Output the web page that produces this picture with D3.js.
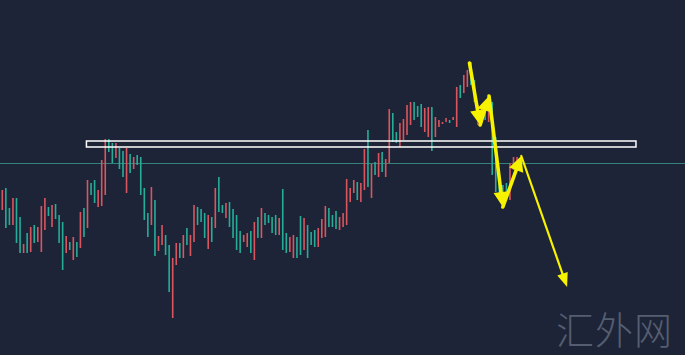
<!DOCTYPE html>
<html><head><meta charset="utf-8">
<script src="https://cdn.jsdelivr.net/npm/d3@7"></script>
<style>html,body{margin:0;padding:0;background:#1d2437;overflow:hidden}</style>
</head><body><svg id="c" width="685" height="355"></svg>
<script>
// Candle highs / lows in chart points (higher = higher price)
const highs = [165,167,147,157,157,138,111,122,128,130,
128,149,157,148,150,151,140,133,119,113,
118,113,143,147,175,172,175,165,195,216,
216,212,212,207,204,207,201,198,200,198,
167,142,168,155,119,130,120,110,97,112,
112,120,127,120,150,148,146,142,140,138,
167,178,150,152,153,146,140,124,120,122,
124,133,138,147,142,140,138,140,137,166,
122,118,120,118,139,137,130,123,125,127,
136,149,147,140,144,138,142,176,167,175,
173,172,206,225,191,193,202,203,196,246,
242,223,232,236,250,253,253,249,251,247,
248,248,238,235,233,237,235,238,268,270,
280,285,293,275,250,247,250,257,253,218,
180,170,172,192,198,198,198];
const lows = [145,127,130,130,112,102,102,102,103,112,
113,103,125,139,128,136,112,85,102,105,
95,98,107,118,127,160,152,148,149,160,
203,192,197,186,178,162,182,186,190,160,
135,118,130,99,104,110,100,63,37,90,
97,97,110,99,113,130,133,117,106,113,
127,143,142,137,128,117,105,102,113,108,
102,95,117,117,130,132,122,120,120,105,
102,103,97,97,100,105,97,110,108,108,
117,118,128,128,126,125,128,130,153,162,
155,153,165,168,157,180,178,183,178,192,
213,212,208,215,220,230,235,238,228,223,
218,204,218,228,231,233,232,235,228,257,
262,268,270,253,230,235,235,233,180,163,
155,150,158,155,185,188,190];
// G = up candle, R = down candle
const direction = ("RGGRGGRGRG"+"RRRGRGGGRG"+"RGRGRGGRRR"+"GGRGGRGRGG"+"GGRGRRGGRR"+
  "GRGRRGGGRG"+"RGGRGGGGRR"+"GRGRGGGGRG"+"GRRGGRGGGR"+"RRGGGRRRRR"+
  "GRRGRGRGRR"+"GGRRRRGGGR"+"RGRRRRGRRG"+"RRGGRRGRGG"+"GGGRRRG").split("");

// Annotations (candle index, chart points)
const refLevel = 192;
const zone = {from: 23.7, to: 178.5, top: 214, bottom: 208};
const arrowPath = [[131.6,292],[134.6,230],[137.1,259],[141.0,148],[146.2,199],[159.1,68]];
const watermark = "汇外网";

const W = 685, H = 355;
const svg = d3.select("#c");
svg.append("rect").attr("width",W).attr("height",H).attr("fill","#1d2437");

const x = d3.scaleLinear().domain([0, highs.length-1]).range([2.3, 520.6]);
const y = d3.scaleLinear().domain([0, 355]).range([355, 0]);

// reference level line
svg.append("line").attr("x1",0).attr("x2",W)
  .attr("y1",y(refLevel)+0.5).attr("y2",y(refLevel)+0.5)
  .attr("stroke","#33837b").attr("stroke-width",1);

const data = highs.map((h,i)=>({i, h, l: lows[i], d: direction[i]}));
svg.append("g").selectAll("rect").data(data).join("rect")
  .attr("x", d => x(d.i)-0.8)
  .attr("y", d => y(d.h))
  .attr("width", 1.6)
  .attr("height", d => Math.max(1.5, y(d.l)-y(d.h)))
  .attr("fill", d => d.d === "G" ? "#26ad98" : "#d9565f");

// zone rectangle
svg.append("rect")
  .attr("x", x(zone.from)).attr("y", y(zone.top))
  .attr("width", x(zone.to)-x(zone.from)).attr("height", y(zone.bottom)-y(zone.top))
  .attr("fill","none").attr("stroke","#ffffff").attr("stroke-width",1.5);

// arrows
const ag = svg.append("g");
for (let k=0;k<arrowPath.length-1;k++){
  const p0=[x(arrowPath[k][0]), y(arrowPath[k][1])];
  const p1=[x(arrowPath[k+1][0]), y(arrowPath[k+1][1])];
  const thin = k === arrowPath.length-2;
  const dx=p1[0]-p0[0], dy=p1[1]-p0[1], len=Math.hypot(dx,dy);
  const ux=dx/len, uy=dy/len, nx=-uy, ny=ux;
  const hl = thin ? 14 : 15, hw = thin ? 5.5 : 7.5;
  const bx=p1[0]-ux*hl, by=p1[1]-uy*hl;
  ag.append("line").attr("x1",p0[0]).attr("y1",p0[1]).attr("x2",bx+ux*2).attr("y2",by+uy*2)
    .attr("stroke","#f7f200").attr("stroke-width", thin?2.2:3.6).attr("stroke-linecap","round");
  ag.append("path")
    .attr("d", `M${p1[0]},${p1[1]}L${bx+nx*hw},${by+ny*hw}L${bx-nx*hw},${by-ny*hw}Z`)
    .attr("fill","#f7f200");
}

svg.append("text").attr("x",556).attr("y",344)
  .attr("font-family","'Noto Sans CJK SC', sans-serif").attr("font-weight",300)
  .attr("font-size",38).attr("fill","#555e70").attr("letter-spacing",1)
  .text(watermark);
</script></body></html>
